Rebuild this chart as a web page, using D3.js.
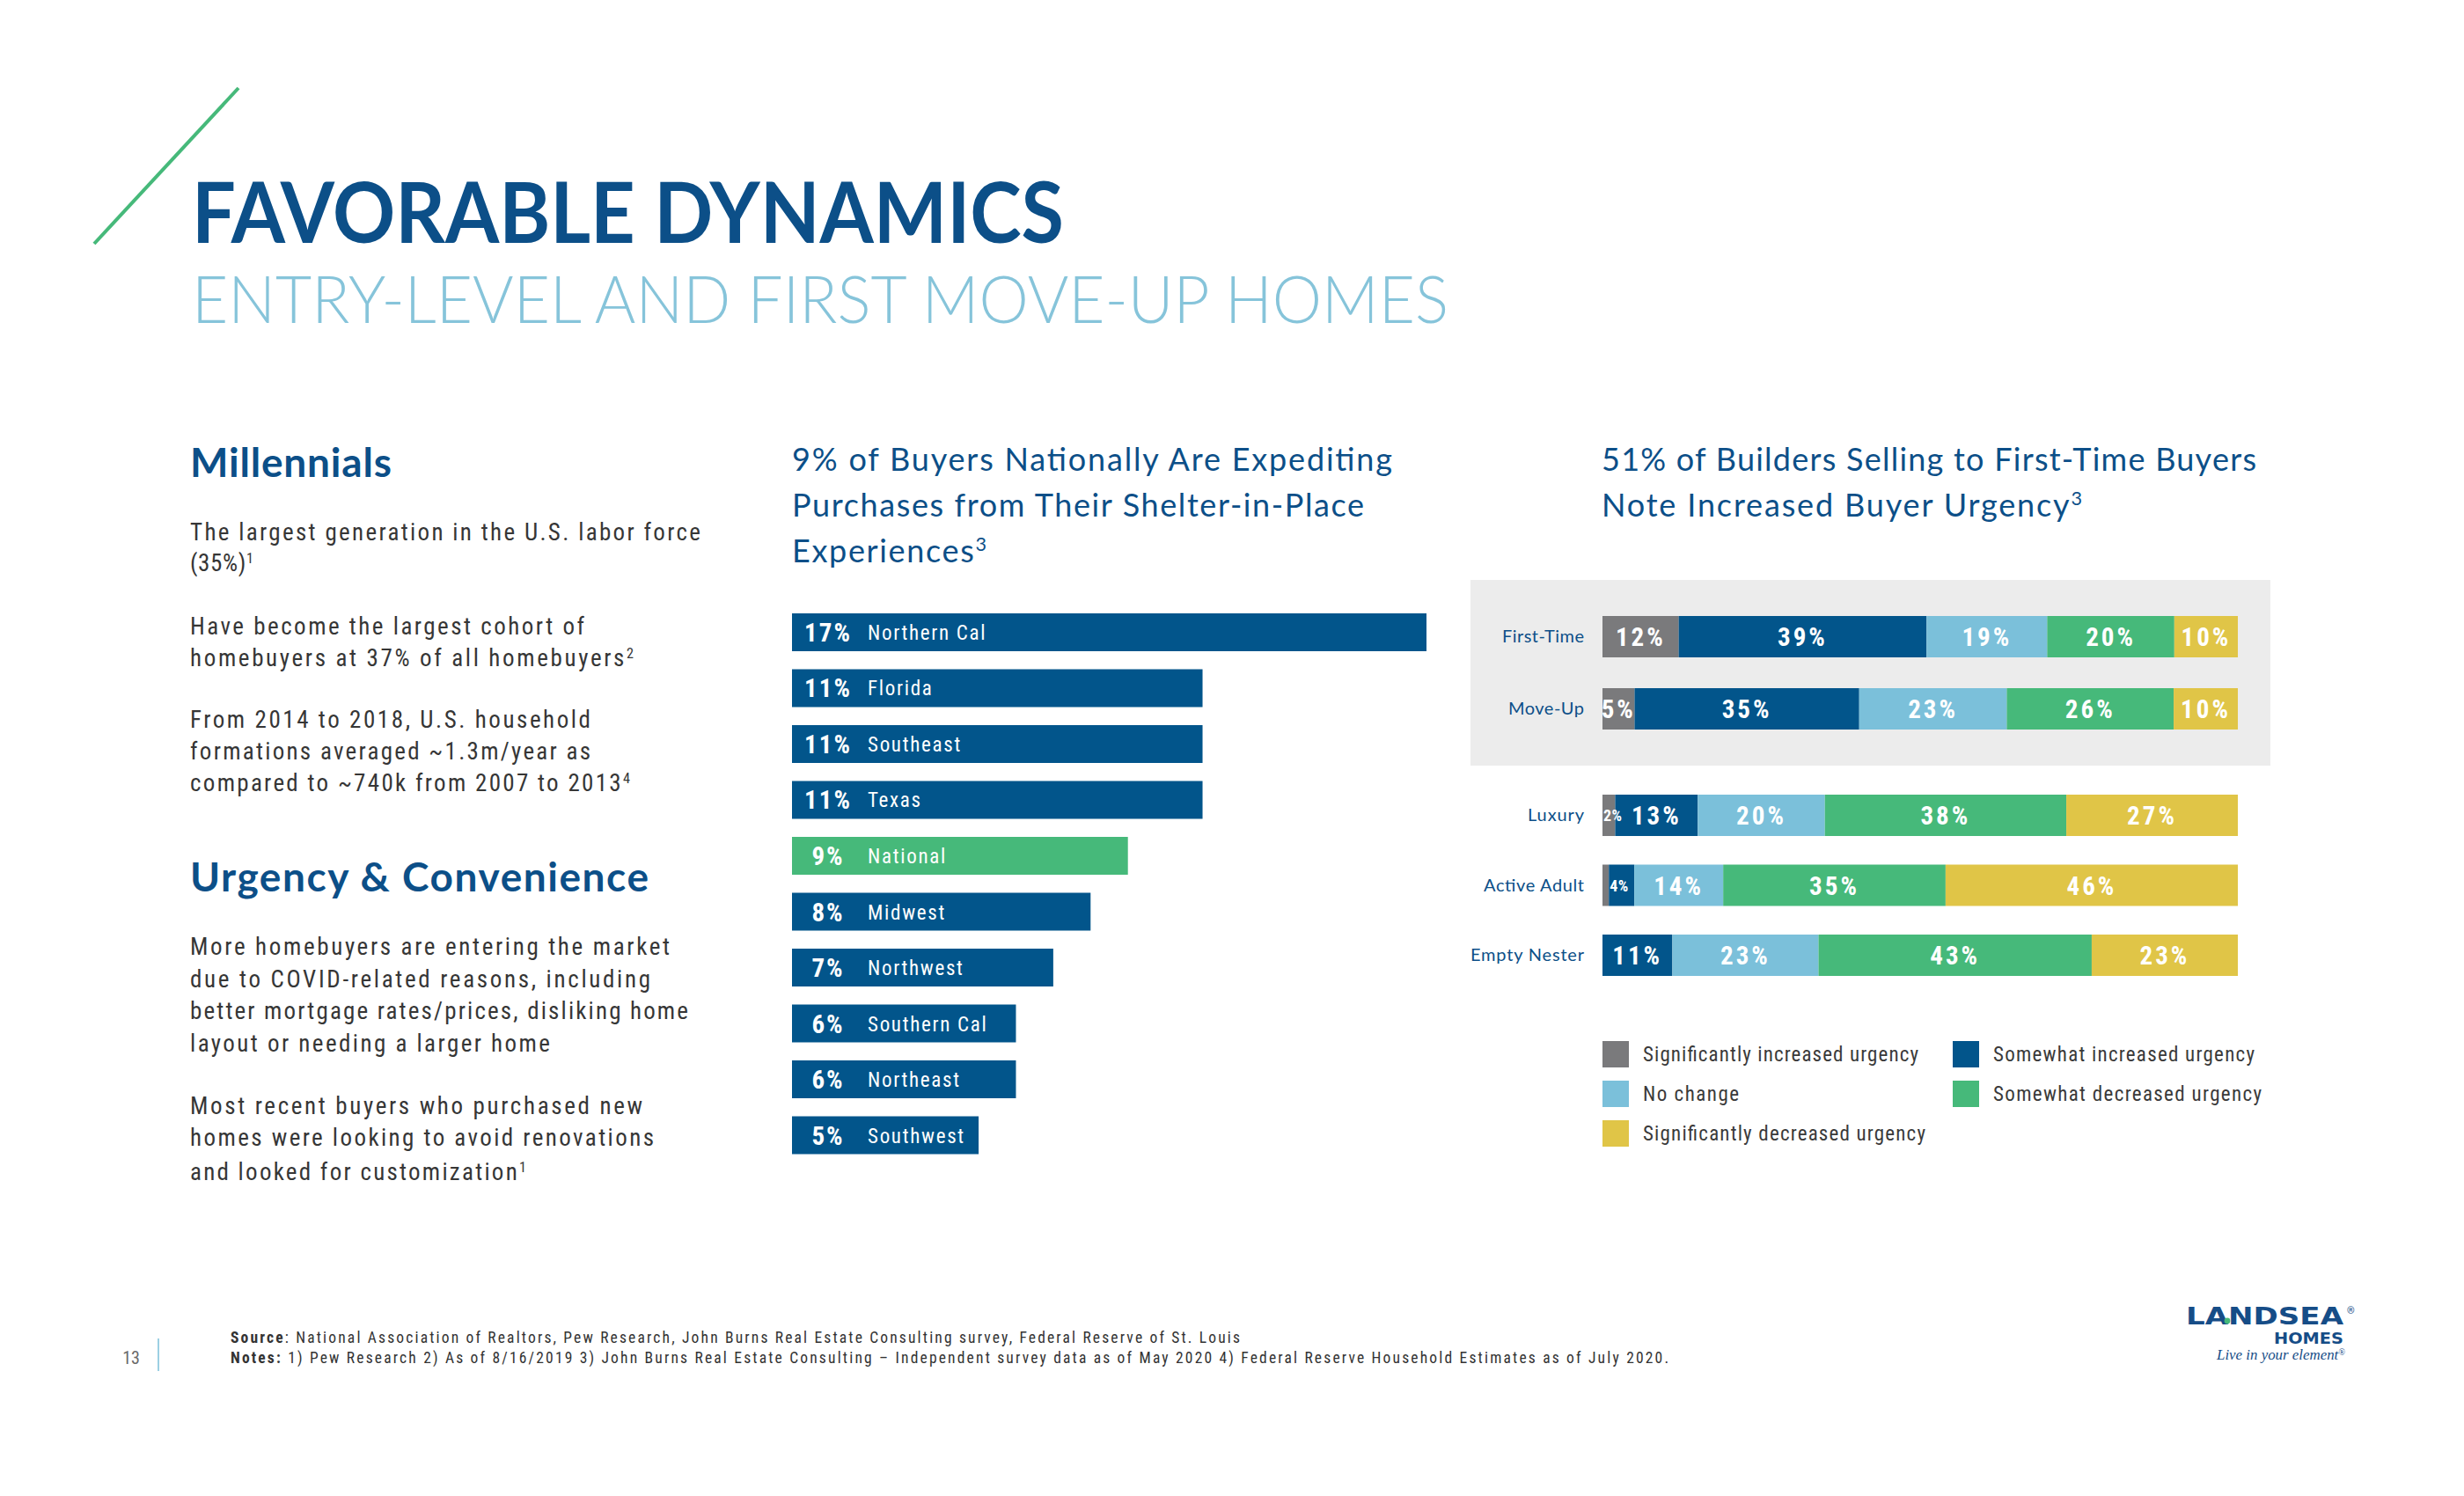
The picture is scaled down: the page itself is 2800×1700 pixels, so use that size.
<!DOCTYPE html>
<html><head><meta charset="utf-8">
<script src="https://cdn.jsdelivr.net/npm/d3@7"></script>
<style>body{margin:0;background:#fff}svg{display:block}</style>
</head><body>
<svg id="c" width="2800" height="1700"></svg>
<script>
// ---------- DATA ----------
const regions = ["Northern Cal","Florida","Southeast","Texas","National","Midwest","Northwest","Southern Cal","Northeast","Southwest"];
const regionValues = [17,11,11,11,9,8,7,6,6,5];
const highlightRegion = "National";

const buyerTypes = ["First-Time","Move-Up","Luxury","Active Adult","Empty Nester"];
const urgencyKeys = ["Significantly increased urgency","Somewhat increased urgency","No change","Somewhat decreased urgency","Significantly decreased urgency"];
const sigIncreased   = [12, 5, 2, 1, 0];
const someIncreased  = [39,35,13, 4,11];
const noChange       = [19,23,20,14,23];
const someDecreased  = [20,26,38,35,43];
const sigDecreased   = [10,10,27,46,23];

const titleText = "FAVORABLE DYNAMICS";
const subtitleText = "ENTRY-LEVEL AND FIRST MOVE-UP HOMES";
const midTitle = [["9% of Buyers Nationally Are Expediting",""],["Purchases from Their Shelter-in-Place",""],["Experiences","3"]];
const rightTitle = [["51% of Builders Selling to First-Time Buyers",""],["Note Increased Buyer Urgency","3"]];
const sourceText = "National Association of Realtors, Pew Research, John Burns Real Estate Consulting survey, Federal Reserve of St. Louis";
const notesText = "1) Pew Research  2) As of 8/16/2019  3) John Burns Real Estate Consulting \u2013 Independent survey data as of May 2020  4) Federal Reserve Household Estimates as of July 2020.";

// ---------- STYLE ----------
const NAVY = "#02558b", TITLE = "#0c4f88", LBLUE = "#7bc0da", GREEN = "#46b97a", GRAY = "#7a7a7c", YELLOW = "#e0c547";
const segColors = [GRAY, NAVY, LBLUE, GREEN, YELLOW];
const HEAD = "Lato, 'Noto Sans', sans-serif";
const COND = "'Liberation Sans Narrow', 'Roboto Condensed', Roboto, sans-serif";
const BODYC = "#363636";

const svg = d3.select("#c");
svg.append("rect").attr("width",2800).attr("height",1700).attr("fill","#fff");

function fit(t, w, stretch){
  if(!w) return t;
  const n = t.node().getComputedTextLength();
  t.attr("textLength", w).attr("lengthAdjust", (n < w && !stretch) ? "spacing" : "spacingAndGlyphs");
  return t;
}
function txt(p, o){
  const t = p.append("text").attr("x",o.x).attr("y",o.y)
    .attr("font-size",o.size).attr("font-family",o.family||COND)
    .attr("font-weight",o.weight||400).attr("fill",o.fill||BODYC)
    .attr("text-anchor",o.anchor||"start");
  if(o.style) t.attr("font-style",o.style);
  if(o.ls) t.attr("letter-spacing",o.ls);
  if(o.bold) t.append("tspan").attr("font-weight",700).text(o.bold);
  t.append("tspan").text(o.text);
  if(o.sup) t.append("tspan").attr("baseline-shift","super").attr("font-size",o.size*0.6).text(o.sup);
  fit(t, o.width, o.stretch);
  return t;
}

// ---------- HEADER ----------
svg.append("line").attr("x1",271).attr("y1",100).attr("x2",107).attr("y2",277)
  .attr("stroke",GREEN).attr("stroke-width",4);
txt(svg,{x:218,y:276,text:titleText,size:96,family:HEAD,weight:700,fill:TITLE,width:991});
txt(svg,{x:218,y:367,text:subtitleText,size:74,family:HEAD,weight:300,fill:"#86c4da",width:1428});

// ---------- LEFT TEXT COLUMN ----------
txt(svg,{x:216,y:542,text:"Millennials",size:46,family:HEAD,weight:700,fill:TITLE,width:229});
txt(svg,{x:216,y:1013,text:"Urgency & Convenience",size:46,family:HEAD,weight:700,fill:TITLE,width:521});
const bodyLines = [
  ["The largest generation in the U.S. labor force","",614,580],
  ["(35%)","1",649,72],
  ["Have become the largest cohort of","",721,448],
  ["homebuyers at 37% of all homebuyers","2",757,504],
  ["From 2014 to 2018, U.S. household","",827,455],
  ["formations averaged ~1.3m/year as","",863,455],
  ["compared to ~740k from 2007 to 2013","4",899,500],
  ["More homebuyers are entering the market","",1085,545],
  ["due to COVID-related reasons, including","",1122,523],
  ["better mortgage rates/prices, disliking home","",1158,566],
  ["layout or needing a larger home","",1195,409],
  ["Most recent buyers who purchased new","",1266,514],
  ["homes were looking to avoid renovations","",1302,527],
  ["and looked for customization","1",1341,382]
];
bodyLines.forEach(l => txt(svg,{x:216,y:l[2],text:l[0],sup:l[1],size:27,width:l[3]}));

// ---------- MIDDLE CHART ----------
const midTitleW = [682,650,221];
midTitle.forEach((l,i)=> txt(svg,{x:900,y:535+i*52,text:l[0],sup:l[1],size:36,family:HEAD,fill:TITLE,width:midTitleW[i]}));

const xBar = d3.scaleLinear().domain([0,17]).range([900,1621]);
const yBar = d3.scaleBand().domain(regions).range([697,1311.5]).paddingInner(0.323).paddingOuter(0);
const barData = regions.map((r,i)=>({region:r,value:regionValues[i]}));
const gBars = svg.append("g");
gBars.selectAll("rect").data(barData).join("rect")
  .attr("x",xBar(0)).attr("y",d=>yBar(d.region))
  .attr("width",d=>xBar(d.value)-xBar(0)).attr("height",yBar.bandwidth())
  .attr("fill",d=>d.region===highlightRegion?GREEN:NAVY);
barData.forEach(d=>{
  const cy = yBar(d.region)+yBar.bandwidth()/2;
  txt(gBars,{x:xBar(0)+41,y:cy+10.5,text:d.value+"%",size:29,weight:700,fill:"#fff",anchor:"middle",ls:2});
  txt(gBars,{x:xBar(0)+86,y:cy+8.5,text:d.region,size:23,fill:"#fff",ls:1.7});
});

// ---------- RIGHT CHART ----------
rightTitle.forEach((l,i)=> txt(svg,{x:1820,y:535+i*52,text:l[0],sup:l[1],size:36,family:HEAD,fill:TITLE,width:[744,546][i]}));
svg.append("rect").attr("x",1671).attr("y",659).attr("width",909).attr("height",211).attr("fill","#ececec");

const rows = buyerTypes.map((b,i)=>{
  const o = {type:b};
  [sigIncreased,someIncreased,noChange,someDecreased,sigDecreased].forEach((arr,k)=>o[urgencyKeys[k]]=arr[i]);
  return o;
});
const series = d3.stack().keys(urgencyKeys).offset(d3.stackOffsetExpand)(rows);
const xS = d3.scaleLinear().domain([0,1]).range([1821,2543]);
const yTop = d3.scaleBand().domain(buyerTypes.slice(0,2)).range([700,829]).paddingInner(0.427).paddingOuter(0);
const yBot = d3.scaleBand().domain(buyerTypes.slice(2)).range([903,1109]).paddingInner(0.409).paddingOuter(0);
const yRow = t => yTop.domain().includes(t) ? yTop(t) : yBot(t);
const bw = yTop.bandwidth();

const gS = svg.append("g");
series.forEach((s,k)=>{
  gS.append("g").attr("fill",segColors[k]).selectAll("rect").data(s).join("rect")
    .attr("x",d=>xS(d[0])).attr("y",d=>yRow(d.data.type))
    .attr("width",d=>Math.max(0,xS(d[1])-xS(d[0]))).attr("height",bw);
});
series.forEach((s,k)=>{
  s.forEach(d=>{
    const v = d.data[s.key];
    if(v<=1) return;
    const cy = yRow(d.data.type)+bw/2;
    if(v<5){
      txt(gS,{x:xS(d[0])+1,y:cy+6.5,text:v+"%",size:18,weight:700,fill:"#fff",ls:0.5});
    } else {
      txt(gS,{x:(xS(d[0])+xS(d[1]))/2,y:cy+10.5,text:v+"%",size:29,weight:700,fill:"#fff",anchor:"middle",ls:3});
    }
  });
});
// row labels
const rowLabelW = {"First-Time":93,"Move-Up":86,"Luxury":64,"Active Adult":114,"Empty Nester":129};
buyerTypes.forEach(t=> txt(svg,{x:1800,y:yRow(t)+bw/2+6.5,text:t,size:20,family:HEAD,fill:TITLE,anchor:"end",width:rowLabelW[t]}));

// legend
const legW = [313,297,109,305,321];
urgencyKeys.forEach((k,i)=>{
  const col = i%2, row = Math.floor(i/2);
  const x = col? 2219 : 1821, y = 1183 + row*45;
  svg.append("rect").attr("x",x).attr("y",y).attr("width",30).attr("height",30).attr("fill",segColors[i]);
  txt(svg,{x:x+46,y:y+23,text:k,size:23,fill:"#3a3a3a",width:legW[i]});
});

// ---------- FOOTER ----------
txt(svg,{x:262,y:1526,bold:"Source",text:": "+sourceText,size:17.5,fill:"#333",width:1147});
txt(svg,{x:262,y:1549,bold:"Notes:",text:"  "+notesText,size:17.5,fill:"#333",width:1634});
txt(svg,{x:159,y:1550,text:"13",size:20,fill:"#6a6a6a",anchor:"end"});
svg.append("line").attr("x1",180).attr("x2",180).attr("y1",1521).attr("y2",1558).attr("stroke",LBLUE).attr("stroke-width",1.5);

// logo
const logo = svg.append("g");
txt(logo,{x:2484,y:1505,text:"LANDSEA",size:26,family:"'DejaVu Sans', sans-serif",weight:700,fill:"#164d87",width:179,stretch:true});
logo.append("circle").attr("cx",2531).attr("cy",1501).attr("r",3.4).attr("fill",GREEN);
txt(logo,{x:2667,y:1493,text:"\u00ae",size:11,fill:"#164d87"});
txt(logo,{x:2663,y:1527,text:"HOMES",size:18,family:"'DejaVu Sans', sans-serif",weight:700,fill:"#164d87",anchor:"end",width:79,stretch:true});
txt(logo,{x:2665,y:1545,text:"Live in your element",sup:"\u00ae",size:17,family:"'Liberation Serif', serif",style:"italic",fill:"#164d87",anchor:"end",width:146});
</script>
</body></html>
